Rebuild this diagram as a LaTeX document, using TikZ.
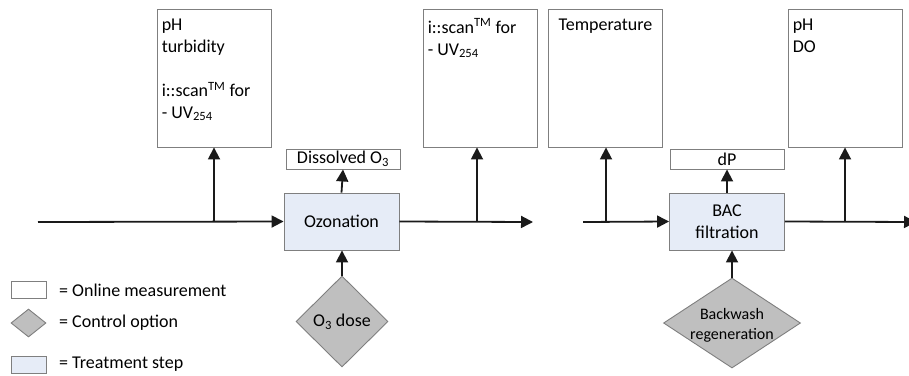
\documentclass[tikz,border=0pt]{standalone}
\usepackage{fontspec}
\setmainfont{Carlito}
\usetikzlibrary{arrows.meta,shapes.geometric}
\definecolor{bordergray}{HTML}{7F7F7F}
\definecolor{stepblue}{HTML}{E6ECF7}
\definecolor{ctrlgray}{HTML}{BFBFBF}
\definecolor{linecol}{HTML}{1A1A1A}
\tikzset{
  meas/.style={draw=bordergray, line width=0.9pt, fill=white, rectangle, inner sep=0pt},
  tallmeas/.style={meas, minimum width=114pt, minimum height=138pt},
  stepbox/.style={draw=bordergray, line width=0.9pt, fill=stepblue, rectangle, inner sep=0pt,
    minimum width=115pt, minimum height=57pt, align=center, font=\fontsize{18pt}{21.5pt}\selectfont},
  ctrl/.style={draw=bordergray, line width=0.9pt, fill=ctrlgray, diamond, inner sep=0pt},
  flow/.style={draw=linecol, line width=1.8pt, -{Triangle[length=12pt,width=12pt]}},
  boxtext/.style={font=\fontsize{18pt}{22pt}\selectfont, align=left, inner sep=0pt},
  legtext/.style={font=\fontsize{18pt}{22pt}\selectfont, anchor=west, inner sep=0pt}
}
\begin{document}
\begin{tikzpicture}[x=1pt,y=-1pt]
\useasboundingbox (0,0) rectangle (909,375);
% tall measurement boxes
\node[tallmeas, label={[boxtext, anchor=north west, xshift=5pt, yshift=-10pt]north west:{pH\\turbidity\\[22pt]i::scan\textsuperscript{TM} for\\- UV\textsubscript{254}}}] (m1) at (214,78) {};
\node[tallmeas, label={[boxtext, anchor=north west, xshift=5pt, yshift=-10pt]north west:{i::scan\textsuperscript{TM} for\\- UV\textsubscript{254}}}] (m2) at (480,78) {};
\node[tallmeas, label={[boxtext, anchor=north, yshift=-10pt]north:{Temperature}}] (m3) at (605.5,78) {};
\node[tallmeas, label={[boxtext, anchor=north west, xshift=5pt, yshift=-10pt]north west:{pH\\DO}}] (m4) at (845,78) {};
% small measurement boxes
\node[meas, minimum width=114pt, minimum height=20pt, font=\fontsize{18pt}{22pt}\selectfont] (diss) at (343,159) {Dissolved O\textsubscript{3}};
\node[meas, minimum width=114pt, minimum height=20pt, font=\fontsize{18pt}{22pt}\selectfont] (dp) at (727,159) {dP};
% treatment steps
\node[stepbox] (oz) at (341.5,221.5) {Ozonation};
\node[stepbox] (bac) at (727,221.5) {BAC\\filtration};
% control options
\node[ctrl, minimum width=92pt, minimum height=91pt, label={[font=\fontsize{18pt}{22pt}\selectfont]center:O\textsubscript{3} dose}] (dose) at (342,321.5) {};
\node[ctrl, minimum width=137pt, minimum height=90pt, label={[font=\fontsize{16pt}{20pt}\selectfont, align=center, yshift=-2pt]center:Backwash\\regeneration}] (bw) at (732,323) {};
% flow coordinates
\coordinate (in1) at (38,222);
\coordinate (j1) at (214,222);
\coordinate (out1) at (533,222);
\coordinate (j2) at (477,222);
\coordinate (in2) at (583,222);
\coordinate (j3) at (606,222);
\coordinate (out2) at (916,222);
\coordinate (j4) at (845,222);
% main line
\draw[flow] (in1) -- (oz.west);
\draw[flow] (oz.east) -- (out1);
\draw[flow] (in2) -- (bac.west);
\draw[flow] (bac.east) -- (out2);
% branches to measurements
\draw[flow] (j1) -- (j1 |- m1.south);
\draw[flow] (j2) -- (j2 |- m2.south);
\draw[flow] (j3) -- (j3 |- m3.south);
\draw[flow] (j4) -- (j4 |- m4.south);
\draw[flow] (oz.north) -- (diss.south);
\draw[flow] (bac.north) -- (dp.south);
% controls
\draw[flow] (dose.north) -- (dose.north |- oz.south);
\draw[flow] (bw.north) -- (bw.north |- bac.south);
% legend
\node[meas, minimum width=35pt, minimum height=17pt] (lg1) at (28.5,289.5) {};
\node[ctrl, minimum width=35pt, minimum height=28pt] (lg2) at (28.5,323) {};
\node[draw=bordergray, line width=0.9pt, fill=stepblue, inner sep=0pt, minimum width=35pt, minimum height=17pt] (lg3) at (28.5,364.5) {};
\node[legtext] (lt1) at (59,290) {= Online measurement};
\node[legtext] (lt2) at (59,323) {= Control option};
\node[legtext] (lt3) at (59,364) {= Treatment step};
\end{tikzpicture}
\end{document}
